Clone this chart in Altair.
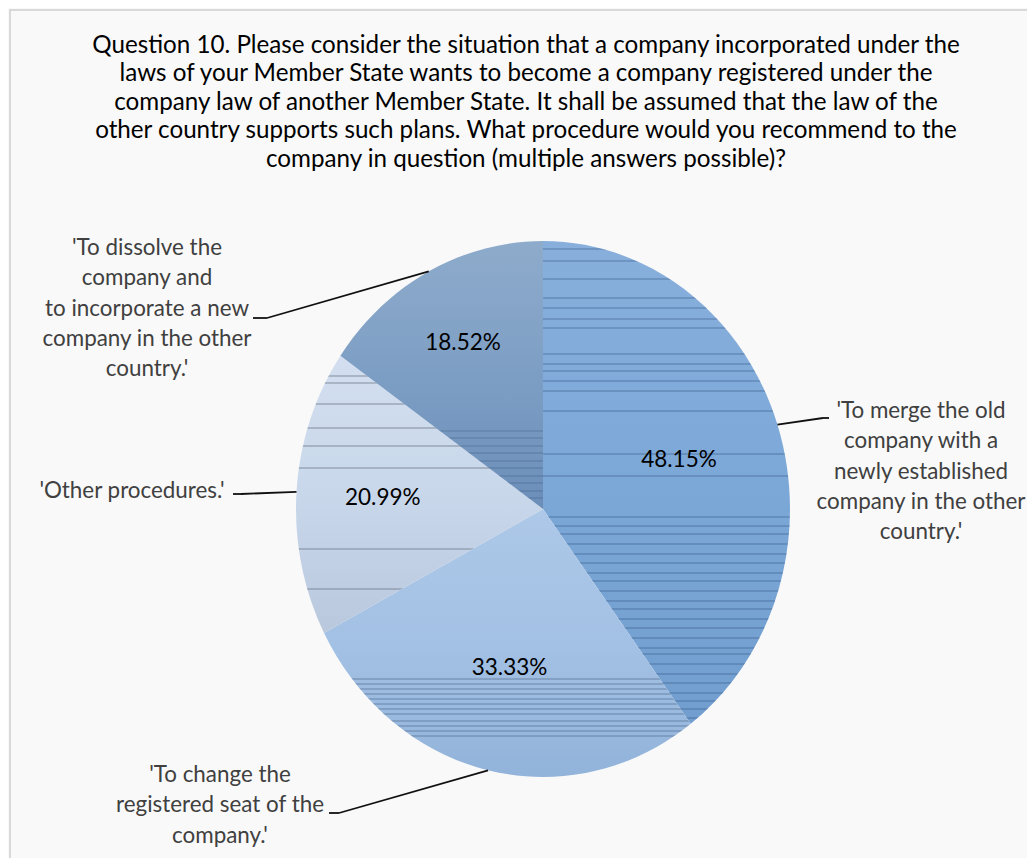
import math
import altair as alt
import pandas as pd

# ---------------- data ----------------
TITLE_LINES = [
    "Question 10. Please consider the situation that a company incorporated under the",
    "laws of your Member State wants to become a company registered under the",
    "company law of another Member State. It shall be assumed that the law of the",
    "other country supports such plans. What procedure would you recommend to the",
    "company in question (multiple answers possible)?",
]
CATEGORIES = ["merge", "seat", "other", "dissolve"]
LABELS = [
    "'To merge the old\ncompany with a\nnewly established\ncompany in the other\ncountry.'",
    "'To change the\nregistered seat of the\ncompany.'",
    "'Other procedures.'",
    "'To dissolve the\ncompany and\nto incorporate a new\ncompany in the other\ncountry.'",
]
VALUES = [48.15, 33.33, 20.99, 18.52]  # percent of respondents

# ---------------- layout / style ----------------
W, H = 1019, 850
CX, CY = 534, 500          # pie centre
RX, RY = 247, 268          # pie radii (the original is slightly stretched vertically)
K = RX / RY
INNER_R = [0.58, 0.61, 0.65, 0.70]
LABEL_X = [912, 211, 123, 138]
LABEL_Y = [409, 773, 489, 246]
ELBOW_X = [814, 330, 232, 258]
ELBOW_Y = [409, 804, 485, 309]
END_X = [820, 320, 224, 244]
END_Y = [409, 804, 485, 309]
GRADIENTS = {
    "merge": ["#88afdc", "#7ca8d8", "#729ecf"],
    "seat": ["#adc8e8", "#a3c1e4", "#92b3da"],
    "other": ["#d3dff0", "#c8d7ea", "#b9c8dd"],
    "dissolve": ["#8eabcb", "#7d9ec4", "#6b8eb9"],
}
# texture of thin horizontal lines (page y positions) and their tint
STRIPES = {
    "merge": ([248, 260, 278, 297, 307, 318, 327, 353, 363, 370, 380, 390, 410, 453, 475,
               516, 525, 533, 543, 553, 562, 572, 580, 590, 600, 608, 618, 627, 637, 647,
               653, 663, 673, 682, 692, 700, 708, 717], "rgba(45,80,125,0.28)"),
    "seat": ([678, 683, 688, 693, 698, 703, 708, 713, 720, 725, 730, 735], "rgba(70,95,130,0.3)"),
    "other": ([375, 382, 403, 427, 445, 467, 548, 588], "rgba(110,120,135,0.4)"),
    "dissolve": ([430, 437, 445, 452, 460, 467, 475, 482, 490, 497], "rgba(50,80,115,0.2)"),
}
FONT = "Lato"

df = pd.DataFrame({
    "cat": CATEGORIES,
    "label": LABELS,
    "value": VALUES,
    "order": list(range(len(CATEGORIES))),
    "ir": INNER_R,
    "lx": LABEL_X, "ly": LABEL_Y,
    "bx": ELBOW_X, "by": ELBOW_Y,
    "nx": END_X, "ny": END_Y,
})

base = (
    alt.Chart(df)
    .transform_joinaggregate(total="sum(value)")
    .transform_window(cum="sum(value)", sort=[alt.SortField("order")], frame=[None, 0])
    .transform_calculate(a0="2*PI*(datum.cum-datum.value)/datum.total")
    .transform_calculate(a1="2*PI*datum.cum/datum.total")
    .transform_calculate(am="(datum.a0+datum.a1)/2")
    .transform_calculate(
        path=(
            f"'M0,0L' + round({K:.6f}*sin(datum.a0)*1e5)/1e5 + ',' + round(-cos(datum.a0)*1e5)/1e5"
            f" + 'A{K:.6f},1 0 ' + (datum.a1-datum.a0>PI?1:0) + ',1 '"
            f" + round({K:.6f}*sin(datum.a1)*1e5)/1e5 + ',' + round(-cos(datum.a1)*1e5)/1e5 + 'Z'"
        )
    )
    .transform_calculate(ex=f"{CX}+{RX}*sin(datum.am)", ey=f"{CY}-{RY}*cos(datum.am)")
    .transform_calculate(ix=f"{CX}+{RX}*datum.ir*sin(datum.am)", iy=f"{CY}-{RY}*datum.ir*cos(datum.am)")
    .transform_calculate(pct="format(datum.value, '.2f') + '%'")
)


def slice_bbox_y(i):
    """vertical extent of slice i (chart pixels) - used only to place the texture stops"""
    tot = sum(VALUES)
    c0 = sum(VALUES[:i]) / tot * 2 * math.pi
    c1 = sum(VALUES[:i + 1]) / tot * 2 * math.pi
    ys = [CY, CY - RY * math.cos(c0), CY - RY * math.cos(c1)]
    for a in (0, math.pi, 2 * math.pi):
        if c0 <= a <= c1:
            ys.append(CY - RY * math.cos(a))
    return min(ys), max(ys)


slices = []
textures = []
for i, cat in enumerate(CATEGORIES):
    cols = GRADIENTS[cat]
    grad = alt.LinearGradient(
        gradient="linear",
        stops=[alt.GradientStop(offset=0, color=cols[0]),
               alt.GradientStop(offset=0.5, color=cols[1]),
               alt.GradientStop(offset=1, color=cols[2])],
        x1=0, x2=0, y1=0, y2=1,
    )
    slices.append(
        base.transform_filter(alt.datum.cat == cat)
        .mark_point(filled=True, fill=grad, opacity=1, strokeWidth=0, size=(2 * RY) ** 2)
        .encode(x=alt.value(CX), y=alt.value(CY), shape=alt.Shape("path:N", scale=None))
    )
    y0, y1 = slice_bbox_y(i)
    hgt = y1 - y0
    ys, tint = STRIPES[cat]
    stops = [alt.GradientStop(offset=0, color="rgba(0,0,0,0)")]
    for sy in ys:
        c = (sy - 8 - y0) / hgt
        w = 0.6 / hgt
        if c - w <= 0 or c + w >= 1:
            continue
        stops += [alt.GradientStop(offset=round(c - w, 5), color="rgba(0,0,0,0)"),
                  alt.GradientStop(offset=round(c - w, 5), color=tint),
                  alt.GradientStop(offset=round(c + w, 5), color=tint),
                  alt.GradientStop(offset=round(c + w, 5), color="rgba(0,0,0,0)")]
    stops.append(alt.GradientStop(offset=1, color="rgba(0,0,0,0)"))
    tex = alt.LinearGradient(gradient="linear", stops=stops, x1=0, x2=0, y1=0, y2=1)
    textures.append(
        base.transform_filter(alt.datum.cat == cat)
        .mark_point(filled=True, fill=tex, opacity=1, strokeWidth=0, size=(2 * RY) ** 2)
        .encode(x=alt.value(CX), y=alt.value(CY), shape=alt.Shape("path:N", scale=None))
    )

xs = dict(scale=None, axis=None)

lead1 = base.mark_rule(color="#111111", strokeWidth=1.8).encode(
    x=alt.X("ex:Q", **xs), y=alt.Y("ey:Q", **xs), x2="bx:Q", y2="by:Q")
lead2 = base.mark_rule(color="#111111", strokeWidth=1.8).encode(
    x=alt.X("bx:Q", **xs), y=alt.Y("by:Q", **xs), x2="nx:Q", y2="ny:Q")

inner = base.mark_text(font=FONT, fontSize=22.5, color="#000000", align="center", baseline="middle").encode(
    x=alt.X("ix:Q", **xs), y=alt.Y("iy:Q", **xs), text="pct:N")

outer = base.mark_text(font=FONT, fontSize=22.4, color="#404040", align="center", baseline="alphabetic",
                       lineBreak="\n", lineHeight=30.3).encode(
    x=alt.X("lx:Q", **xs), y=alt.Y("ly:Q", **xs), text="label:N")

title = alt.Chart(pd.DataFrame({"t": [0]})).mark_text(
    text=TITLE_LINES, font=FONT, fontSize=24.2, color="#000000", align="center",
    baseline="alphabetic", lineHeight=28.4,
).encode(x=alt.value(517), y=alt.value(44))

frame_top = alt.Chart(pd.DataFrame({"t": [0]})).mark_rule(color="#d9d9d9", strokeWidth=2).encode(
    x=alt.value(0), x2=alt.value(W), y=alt.value(1))
frame_left = alt.Chart(pd.DataFrame({"t": [0]})).mark_rule(color="#d9d9d9", strokeWidth=2).encode(
    x=alt.value(1), y=alt.value(0), y2=alt.value(H))

chart = alt.layer(frame_top, frame_left, *slices, *textures, lead1, lead2, inner, outer, title).properties(
    width=W, height=H, padding=0, background="#f9f9f9",
    autosize=alt.AutoSizeParams(type="fit", contains="padding"),
).configure_view(stroke=None)

chart.save("out.html", embed_options={"renderer": "svg", "actions": False})
